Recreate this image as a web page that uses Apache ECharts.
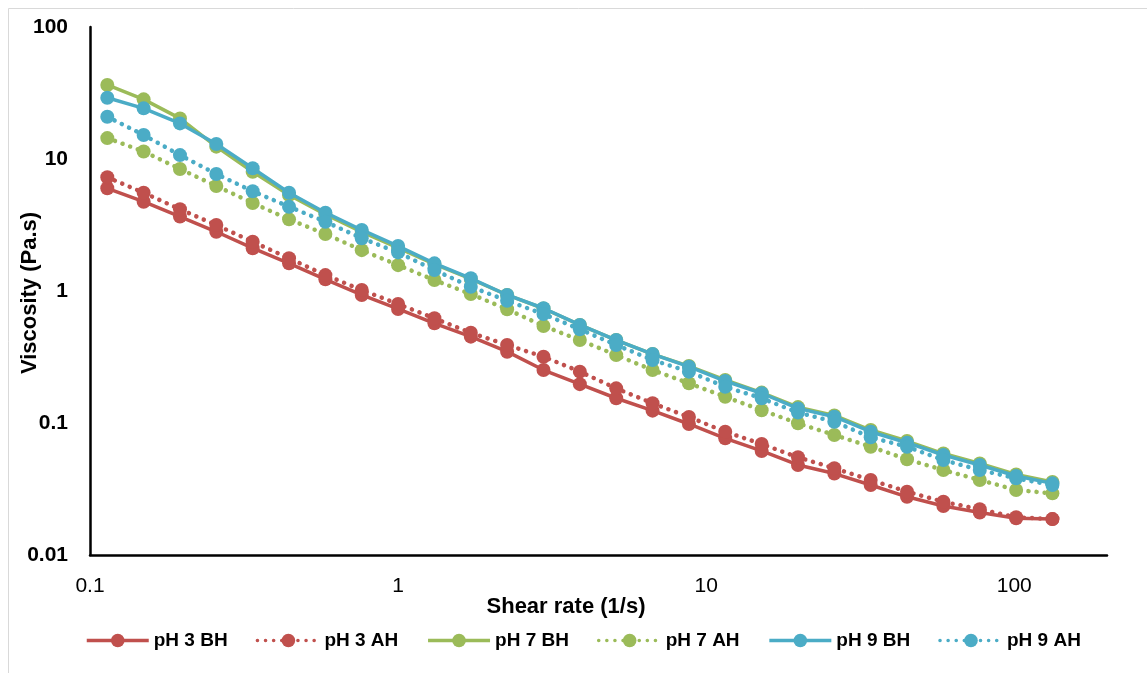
<!DOCTYPE html>
<html>
<head>
<meta charset="utf-8">
<script src="https://cdn.jsdelivr.net/npm/echarts@6/dist/echarts.min.js"></script>
<style>
html,body{margin:0;padding:0;background:#fff;}
#chart{width:1147px;height:673px;}
</style>
</head>
<body>
<div id="chart"></div>
<script>
// Shear rate (1/s)
const shearRate = [0.1138, 0.1493, 0.1959, 0.2570, 0.3373, 0.4426, 0.5808, 0.7621, 1.0,
  1.312, 1.722, 2.259, 2.965, 3.890, 5.105, 6.699, 8.790, 11.53, 15.14, 19.86,
  26.06, 34.20, 44.87, 58.88, 77.27, 101.4, 133.0];

// Viscosity (Pa.s)
const pH3BH = [6.00, 4.75, 3.66, 2.81, 2.11, 1.62, 1.226, 0.933, 0.731, 0.569, 0.451, 0.347,
  0.252, 0.197, 0.154, 0.124, 0.0983, 0.0766, 0.0614, 0.0481, 0.0414, 0.0339, 0.0276,
  0.0235, 0.0210, 0.0190, 0.0187];
const pH3AH = [7.27, 5.55, 4.16, 3.16, 2.36, 1.77, 1.32, 1.018, 0.797, 0.621, 0.483, 0.390,
  0.318, 0.245, 0.183, 0.141, 0.111, 0.0859, 0.0693, 0.0550, 0.0454, 0.0370, 0.0302,
  0.0253, 0.0222, 0.0193, 0.0187];
const pH7BH = [36.4, 28.3, 20.3, 12.4, 8.01, 5.34, 3.80, 2.80, 2.12, 1.60, 1.233, 0.933,
  0.737, 0.553, 0.425, 0.333, 0.270, 0.212, 0.170, 0.132, 0.114, 0.0885, 0.0730,
  0.0587, 0.0493, 0.0407, 0.0357];
const pH7AH = [14.4, 11.4, 8.40, 6.25, 4.64, 3.49, 2.70, 2.04, 1.57, 1.21, 0.949, 0.727,
  0.543, 0.425, 0.327, 0.252, 0.200, 0.158, 0.125, 0.0995, 0.0811, 0.0661, 0.0531,
  0.0440, 0.0370, 0.0311, 0.0293];
const pH9BH = [29.1, 24.2, 18.6, 13.0, 8.50, 5.55, 3.92, 2.90, 2.19, 1.62, 1.248, 0.933,
  0.740, 0.553, 0.425, 0.333, 0.267, 0.208, 0.168, 0.129, 0.1116, 0.0859, 0.0709,
  0.0572, 0.0481, 0.0397, 0.0349];
const pH9AH = [20.9, 15.2, 10.7, 7.70, 5.70, 4.35, 3.35, 2.51, 1.96, 1.44, 1.078, 0.844,
  0.669, 0.513, 0.390, 0.300, 0.245, 0.188, 0.154, 0.120, 0.1023, 0.0779, 0.0661,
  0.0524, 0.0440, 0.0381, 0.0339];

const seriesNames = ['pH 3 BH', 'pH 3 AH', 'pH 7 BH', 'pH 7 AH', 'pH 9 BH', 'pH 9 AH'];
const seriesValues = [pH3BH, pH3AH, pH7BH, pH7AH, pH9BH, pH9AH];
const seriesColors = ['#C0504D', '#C0504D', '#9BBB59', '#9BBB59', '#4BACC6', '#4BACC6'];
const dotted = [false, true, false, true, false, true];

const yTickLabels = {'-2': '0.01', '-1': '0.1', '0': '1', '1': '10', '2': '100'};
const xTickLabels = {'-1': '0.1', '0': '1', '1': '10', '2': '100'};

const FONT = '"Liberation Sans", Arial, sans-serif';

function lab(map) {
  return function (v) {
    const l = Math.log10(v);
    const k = Math.round(l);
    return Math.abs(l - k) < 1e-6 && map[String(k)] !== undefined ? map[String(k)] : '';
  };
}

const chart = echarts.init(document.getElementById('chart'), null, {renderer: 'canvas'});

const series = seriesNames.map((name, i) => ({
  name: name,
  type: 'line',
  data: shearRate.map((x, j) => [x, seriesValues[i][j]]),
  symbol: 'circle',
  symbolSize: 14,
  showSymbol: true,
  z: 2 + i,
  itemStyle: {color: seriesColors[i]},
  lineStyle: dotted[i]
    ? {color: seriesColors[i], width: 4.5, type: [0.1, 8], cap: 'round'}
    : {color: seriesColors[i], width: 3.5, type: 'solid'},
  emphasis: {disabled: true},
  animation: false
}));

chart.setOption({
  animation: false,
  backgroundColor: '#fff',
  grid: {left: 90, right: 40, top: 27, bottom: 118, containLabel: false},
  xAxis: {
    type: 'log', logBase: 10, min: 0.1, max: 200,
    axisLine: {show: true, onZero: false, lineStyle: {color: '#000', width: 2.5}},
    axisTick: {show: false},
    splitLine: {show: false},
    minorTick: {show: false},
    axisLabel: {
      show: true, margin: 21, color: '#000', fontSize: 21, fontFamily: FONT,
      showMaxLabel: false, formatter: lab(xTickLabels)
    }
  },
  yAxis: {
    type: 'log', logBase: 10, min: 0.01, max: 100,
    axisLine: {show: true, onZero: false, lineStyle: {color: '#000', width: 2.5}},
    axisTick: {show: false},
    splitLine: {show: false},
    axisLabel: {
      show: true, margin: 22, color: '#000', fontSize: 21, fontWeight: 'bold', fontFamily: FONT,
      formatter: lab(yTickLabels)
    }
  },
  legend: {
    data: seriesNames,
    left: 80, top: 626,
    itemWidth: 62, itemHeight: 17, itemGap: 28,
    lineStyle: {width: 3.5},
    textStyle: {color: '#000', fontSize: 19, fontWeight: 'bold', fontFamily: FONT},
    selectedMode: false
  },
  graphic: [
    {type: 'rect', silent: true,
      shape: {x: 8.5, y: 8.5, width: 1400, height: 900},
      style: {fill: 'none', stroke: '#d9d9d9', lineWidth: 1}},
    {type: 'text', x: 566, y: 607, silent: true,
      style: {text: 'Shear rate (1/s)', fill: '#000', font: 'bold 22px ' + FONT,
        textAlign: 'center', textVerticalAlign: 'middle'}},
    {type: 'text', x: 30, y: 293, rotation: Math.PI / 2, silent: true,
      style: {text: 'Viscosity (Pa.s)', fill: '#000', font: 'bold 22px ' + FONT,
        textAlign: 'center', textVerticalAlign: 'middle'}}
  ],
  series: series
});
</script>
</body>
</html>
